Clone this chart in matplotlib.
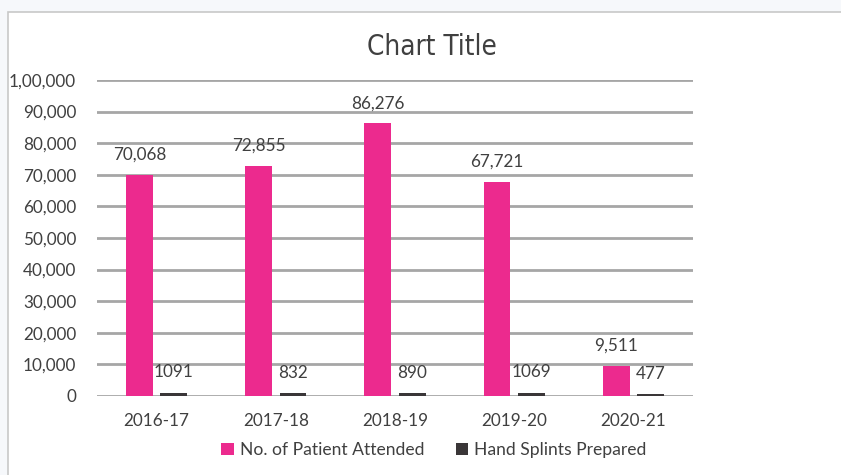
import numpy as np
import matplotlib
matplotlib.use('Agg')
from matplotlib import pyplot as plt
from matplotlib.patches import Rectangle

years = ['2016-17', '2017-18', '2018-19', '2019-20', '2020-21']
patients = [70068, 72855, 86276, 67721, 9511]
splints = [1091, 832, 890, 1069, 477]
patient_labels = ['70,068', '72,855', '86,276', '67,721', '9,511']
splint_labels = ['1091', '832', '890', '1069', '477']
yticks = [0, 10000, 20000, 30000, 40000, 50000, 60000, 70000, 80000, 90000, 100000]
ytick_labels = ['0', '10,000', '20,000', '30,000', '40,000', '50,000',
                '60,000', '70,000', '80,000', '90,000', '1,00,000']

pink = '#EC2A8E'
dark = '#3A3638'
txt = '#404040'
font = ['Lato', 'DejaVu Sans']
plt.rcParams['font.family'] = font

fig = plt.figure(figsize=(8.41, 4.75), dpi=100)
fig.patch.set_facecolor('#F6F8FB')
# white chart area with thin gray border
fig.patches.append(Rectangle((8 / 841, -0.01), 1, 1.01 - 12 / 475, transform=fig.transFigure,
                             facecolor='white', edgecolor='#C8C8C8', lw=1.2, zorder=-5))

ax = fig.add_axes([97 / 841, 1 - 396 / 475, (693 - 97) / 841, (396 - 80) / 475])
ax.set_facecolor('none')
ax.set_zorder(2)

x = np.arange(len(years))
w = 0.225
off = 0.145
b1 = ax.bar(x - off, patients, w, color=pink, label='No. of Patient Attended', zorder=3)
b2 = ax.bar(x + off, splints, w, color=dark, label='Hand Splints Prepared', zorder=3)

for bars, labs in ((b1, patient_labels), (b2, splint_labels)):
    for r, lab in zip(bars, labs):
        ax.annotate(lab, (r.get_x() + r.get_width() / 2, r.get_height()),
                    xytext=(0, 14.5), textcoords='offset points',
                    ha='center', va='center', fontsize=12.3, color=txt)

ax.set_xlim(-0.5, len(years) - 0.5)
ax.set_ylim(0, 100000)
ax.set_yticks(yticks)
ax.set_yticklabels(ytick_labels)
ax.set_xticks(x)
ax.set_xticklabels(years)
ax.tick_params(axis='both', length=0, labelsize=12.3, labelcolor=txt)
ax.tick_params(axis='x', pad=12)
ax.tick_params(axis='y', pad=15)
ax.yaxis.grid(True, color='#A6A6A6', lw=2, zorder=0)
for s in ax.spines.values():
    s.set_visible(False)

fig.text(432 / 841, 1 - 47 / 475, 'Chart Title', ha='center', va='center',
         fontsize=20, color=txt, fontstretch='condensed',
         family=['DejaVu Sans'])

fig.legend(handles=[b1, b2], loc='center', bbox_to_anchor=(434 / 841, 1 - 450 / 475),
           ncol=2, frameon=False, fontsize=12.6, labelcolor=txt,
           handlelength=0.7, handleheight=0.7, handletextpad=0.35, columnspacing=1.8)

fig.savefig('out.png', dpi=100)
